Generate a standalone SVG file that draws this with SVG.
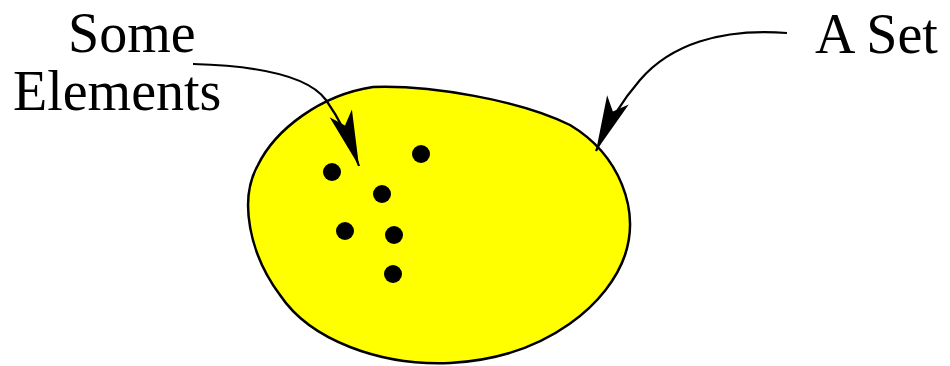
<svg xmlns="http://www.w3.org/2000/svg" width="950" height="366" viewBox="0 0 950 366">
<style>
.lbl{font-family:"Liberation Serif","Times New Roman",serif;font-size:56px;fill:#000}
.conn{fill:none;stroke:#000;stroke-width:2.2}
.dot{fill:#000}
</style>
<defs>
<marker id="ah" markerUnits="userSpaceOnUse" markerWidth="60" markerHeight="30" viewBox="-54 -13 56 26" refX="0" refY="0" orient="auto">
<path d="M0,0 L-52,-11 L-40,0 L-52,11 Z" fill="#000"/>
</marker>
</defs>
<rect width="950" height="366" fill="#fff"/>
<g id="set">
<path d="M373,87 C430,85 520,100 570,125 C620,155 640,210 625,255 C610,300 550,358 450,363 C380,366 310,340 280,295 C250,255 238,200 258,165 C275,130 320,95 373,87 Z" fill="#ffff00" stroke="#000" stroke-width="2.5"/>
<circle class="dot" cx="332" cy="172" r="9"/>
<circle class="dot" cx="421" cy="154" r="9"/>
<circle class="dot" cx="382" cy="194" r="9"/>
<circle class="dot" cx="345" cy="231" r="9"/>
<circle class="dot" cx="394" cy="235" r="9"/>
<circle class="dot" cx="393" cy="274" r="9"/>
</g>
<g id="label-elements">
<text class="lbl" x="68" y="52">Some</text>
<text class="lbl" x="13" y="110">Elements</text>
</g>
<g id="label-set">
<text class="lbl" x="815" y="53">A Set</text>
</g>
<g id="connectors">
<path class="conn" d="M193,64 C265,66 310,78 326,100 C338,117 350,140 359,166" marker-end="url(#ah)"/>
<path class="conn" d="M787,33 C720,28 670,45 640,80 C620,103 605,130 596,151" marker-end="url(#ah)"/>
</g>
</svg>
